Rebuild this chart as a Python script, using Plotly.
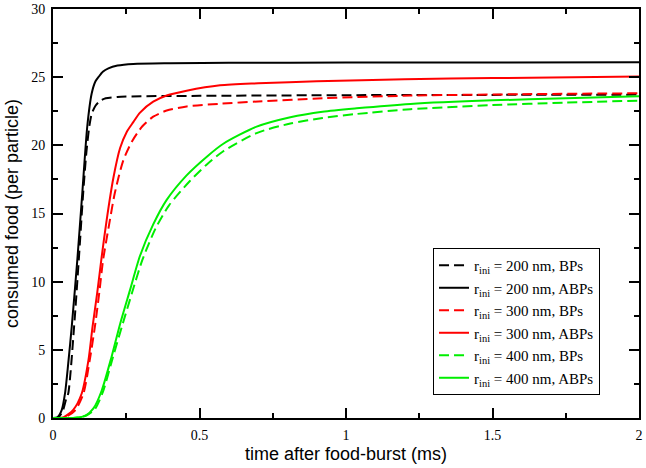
import plotly.graph_objects as go

# ---- data ----
t_bp200 = [0, 0.018, 0.033, 0.045, 0.052, 0.072, 0.088, 0.103, 0.114, 0.124, 0.132, 0.145, 0.16, 0.18, 0.22, 0.3, 0.5, 1.0, 1.5, 2.0]
v_bp200 = [0, 0.05, 0.5, 1.4, 1.8, 6.7, 11.6, 16.5, 19.5, 21.4, 22.3, 22.9, 23.25, 23.45, 23.55, 23.6, 23.63, 23.68, 23.7, 23.72]

t_abp200 = [0, 0.015, 0.03, 0.041, 0.052, 0.064, 0.083, 0.1, 0.117, 0.132, 0.145, 0.155, 0.17, 0.189, 0.22, 0.274, 0.4, 0.6, 1.0, 1.5, 2.0]
v_abp200 = [0, 0.05, 0.6, 1.8, 4.0, 6.7, 11.6, 16.5, 21.4, 23.8, 24.7, 25.0, 25.4, 25.65, 25.85, 25.97, 26.02, 26.05, 26.07, 26.08, 26.1]

t_bp300 = [0, 0.04, 0.075, 0.104, 0.125, 0.143, 0.158, 0.171, 0.19, 0.211, 0.24, 0.27, 0.305, 0.342, 0.388, 0.456, 0.57, 0.7, 0.92, 1.22, 1.6, 2.0]
v_bp300 = [0, 0.05, 0.55, 1.8, 4.2, 6.7, 9.2, 11.6, 14.0, 16.5, 18.9, 20.3, 21.4, 22.1, 22.55, 22.85, 23.05, 23.22, 23.45, 23.65, 23.75, 23.82]

t_abp300 = [0, 0.035, 0.069, 0.098, 0.121, 0.135, 0.151, 0.166, 0.183, 0.206, 0.229, 0.252, 0.274, 0.297, 0.342, 0.388, 0.456, 0.57, 0.7, 0.9, 1.2, 1.5, 2.0]
v_abp300 = [0, 0.05, 0.6, 1.8, 4.25, 6.7, 9.2, 11.8, 14.5, 17.6, 19.8, 21.0, 21.7, 22.4, 23.2, 23.65, 24.0, 24.4, 24.55, 24.7, 24.85, 24.93, 25.05]

t_bp400 = [0, 0.08, 0.115, 0.143, 0.17, 0.205, 0.235, 0.27, 0.305, 0.35, 0.396, 0.468, 0.525, 0.58, 0.695, 0.81, 0.92, 1.036, 1.22, 1.5, 1.75, 2.0]
v_bp400 = [0, 0.02, 0.2, 0.65, 1.9, 4.5, 6.7, 9.2, 11.6, 13.9, 15.6, 17.4, 18.6, 19.55, 20.9, 21.6, 22.0, 22.3, 22.65, 22.95, 23.13, 23.28]

t_abp400 = [0, 0.075, 0.11, 0.138, 0.166, 0.2, 0.229, 0.263, 0.297, 0.342, 0.388, 0.456, 0.525, 0.58, 0.695, 0.81, 0.92, 1.036, 1.22, 1.5, 1.75, 2.0]
v_abp400 = [0, 0.02, 0.15, 0.7, 2.0, 4.5, 6.9, 9.4, 11.9, 14.2, 16.0, 17.8, 19.17, 20.1, 21.37, 22.06, 22.47, 22.72, 23.04, 23.3, 23.45, 23.6]

labels = [
    "r<sub>ini</sub> = 200 nm, BPs",
    "r<sub>ini</sub> = 200 nm, ABPs",
    "r<sub>ini</sub> = 300 nm, BPs",
    "r<sub>ini</sub> = 300 nm, ABPs",
    "r<sub>ini</sub> = 400 nm, BPs",
    "r<sub>ini</sub> = 400 nm, ABPs",
]

series = [
    (t_bp200, v_bp200, "#000000", "10px,5px"),
    (t_abp200, v_abp200, "#000000", "solid"),
    (t_bp300, v_bp300, "#ff0000", "10px,5px"),
    (t_abp300, v_abp300, "#ff0000", "solid"),
    (t_bp400, v_bp400, "#00ee00", "10px,5px"),
    (t_abp400, v_abp400, "#00ee00", "solid"),
]

fig = go.Figure()
for (t, v, c, d), name in zip(series, labels):
    fig.add_trace(go.Scatter(
        x=t, y=v, mode="lines", name=name,
        line=dict(color=c, width=2, dash=d, shape="spline", smoothing=0.7),
    ))

serif = "Liberation Serif, Times New Roman, serif"
sans = "Liberation Sans, Arial, sans-serif"

axis_common = dict(
    showline=True, linecolor="black", linewidth=2, mirror="ticks",
    ticks="inside", ticklen=10, tickwidth=1.5, tickcolor="black",
    showgrid=False, zeroline=False, automargin=False,
    tickfont=dict(family=serif, size=14, color="black"),
    title_font=dict(family=sans, size=18, color="black"),
)

fig.update_xaxes(
    range=[0, 2], tick0=0, dtick=0.5,
    minor=dict(ticks="inside", ticklen=5, dtick=0.25, tickwidth=1.5, tickcolor="black"),
    title_text="time after food-burst (ms)", title_standoff=6,
    ticklabelstandoff=3,
    **axis_common,
)
fig.update_yaxes(
    range=[0, 30], tick0=0, dtick=5,
    minor=dict(ticks="inside", ticklen=5, dtick=2.5, tickwidth=1.5, tickcolor="black"),
    title_text="consumed food (per particle)", title_standoff=8,
    ticklabelstandoff=3,
    **axis_common,
)

fig.update_layout(
    width=646, height=468,
    margin=dict(l=53, r=7, t=9, b=50),
    paper_bgcolor="white", plot_bgcolor="white",
    legend=dict(
        x=0.6485, y=0.4156, xanchor="left", yanchor="top",
        bgcolor="white", bordercolor="black", borderwidth=1,
        font=dict(family=serif, size=15, color="black"),
        tracegroupgap=0,
    ),
    showlegend=True,
)

fig.write_html(
    "out.html",
    config={"displayModeBar": False},
    post_script="document.body.style.margin='0';document.body.style.overflow='hidden';",
)
